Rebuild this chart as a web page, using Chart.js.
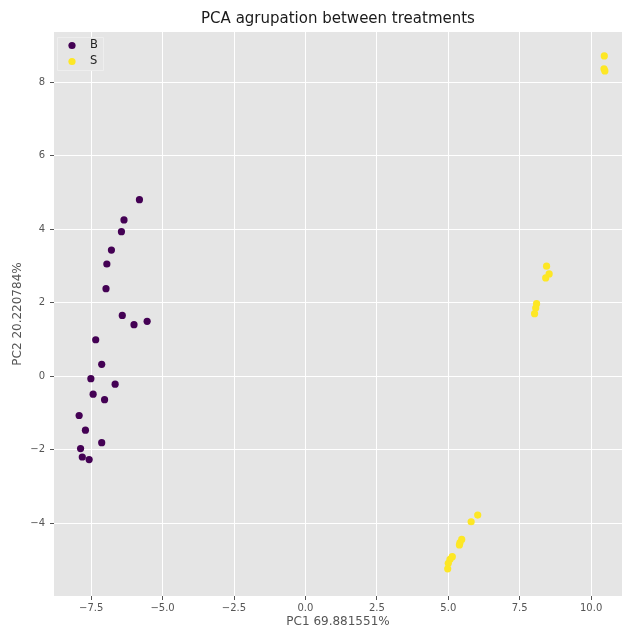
<!DOCTYPE html>
<html lang="en">
<head>
    <meta charset="UTF-8">
    <title>PCA agrupation between treatments</title>
    <script src="https://cdn.jsdelivr.net/npm/chart.js"></script>
    <style>
        body { margin: 0; background: #ffffff; }
        canvas { display: block; }
    </style>
</head>
<body>
    <canvas id="pcaChart" width="622" height="628"></canvas>

    <script>
        // PC scores for each treatment group
        const groupLabels = ['B', 'S'];
        const pc1B = [-5.81, -6.35, -6.44, -6.79, -6.95, -6.98, -6.41, -6.00, -5.54, -7.34, -7.13,
                      -7.51, -6.66, -7.43, -7.03, -7.92, -7.70, -7.13, -7.87, -7.81, -7.57];
        const pc2B = [4.80, 4.25, 3.93, 3.43, 3.05, 2.38, 1.65, 1.40, 1.49, 0.99, 0.32,
                      -0.07, -0.22, -0.49, -0.64, -1.07, -1.47, -1.81, -1.97, -2.20, -2.27];
        const pc1S = [6.03, 5.80, 5.47, 5.41, 5.39, 5.14, 5.06, 5.00, 4.98,
                      8.44, 8.53, 8.41, 8.09, 8.06, 8.02, 10.46, 10.45, 10.48];
        const pc2S = [-3.78, -3.96, -4.44, -4.53, -4.59, -4.91, -4.98, -5.09, -5.24,
                      2.99, 2.78, 2.67, 1.97, 1.85, 1.70, 8.71, 8.36, 8.30];

        const xTicks = [-7.5, -5.0, -2.5, 0.0, 2.5, 5.0, 7.5, 10.0];
        const yTicks = [-4, -2, 0, 2, 4, 6, 8];

        const colorB = '#440154';
        const colorS = '#fde725';
        const FONT = 'DejaVu Sans';

        function toPoints(xs, ys) {
            return xs.map((x, i) => ({ x: x, y: ys[i] }));
        }

        function minusSign(text) {
            return text.replace('-', '\u2212');
        }

        // grey panel behind the plot, title on top, legend in the upper left corner
        const ggplotDecor = {
            id: 'ggplotDecor',
            beforeDraw(chart) {
                const { ctx, chartArea: a } = chart;
                ctx.save();
                ctx.fillStyle = '#e5e5e5';
                ctx.fillRect(a.left, a.top, a.right - a.left, a.bottom - a.top);
                ctx.restore();
            },
            afterDraw(chart) {
                const { ctx, chartArea: a } = chart;
                ctx.save();
                ctx.fillStyle = '#1a1a1a';
                ctx.font = '15px "' + FONT + '"';
                ctx.textAlign = 'center';
                ctx.textBaseline = 'middle';
                ctx.fillText('PCA agrupation between treatments', (a.left + a.right) / 2, 19);

                // legend
                const bx = a.left + 3, by = a.top + 5;
                ctx.fillStyle = '#e5e5e5';
                ctx.strokeStyle = '#eeeeee';
                ctx.lineWidth = 1;
                ctx.beginPath();
                ctx.rect(bx + 0.5, by + 0.5, 46, 33);
                ctx.fill();
                ctx.stroke();
                chart.data.datasets.forEach((ds, i) => {
                    const cy = by + 8.5 + i * 16;
                    ctx.fillStyle = ds.backgroundColor;
                    ctx.beginPath();
                    ctx.arc(bx + 15, cy, 3.6, 0, Math.PI * 2);
                    ctx.fill();
                    ctx.fillStyle = '#222222';
                    ctx.font = '11.5px "' + FONT + '"';
                    ctx.textAlign = 'left';
                    ctx.fillText(ds.label, bx + 33, cy);
                });
                ctx.restore();
            }
        };

        const ctx = document.getElementById('pcaChart').getContext('2d');
        new Chart(ctx, {
            type: 'scatter',
            data: {
                datasets: [
                    {
                        label: groupLabels[0],
                        data: toPoints(pc1B, pc2B),
                        backgroundColor: colorB,
                        borderWidth: 0,
                        pointRadius: 3.6
                    },
                    {
                        label: groupLabels[1],
                        data: toPoints(pc1S, pc2S),
                        backgroundColor: colorS,
                        borderWidth: 0,
                        pointRadius: 3.6
                    }
                ]
            },
            options: {
                responsive: false,
                animation: false,
                devicePixelRatio: 1,
                layout: { autoPadding: false, padding: { top: 32, right: 0, left: 0, bottom: 0 } },
                plugins: {
                    legend: { display: false },
                    tooltip: { enabled: false }
                },
                scales: {
                    x: {
                        type: 'linear',
                        min: -8.8,
                        max: 11.08,
                        afterBuildTicks: scale => { scale.ticks = xTicks.map(v => ({ value: v })); },
                        afterFit: scale => {
                            scale.height = 32;
                            scale.paddingLeft = 0;
                            scale.paddingRight = 0;
                        },
                        border: { display: false },
                        grid: { color: '#ffffff', lineWidth: 1, tickColor: '#555555', tickLength: 4 },
                        ticks: {
                            color: '#555555',
                            padding: 2,
                            maxRotation: 0,
                            font: { family: FONT, size: 10 },
                            callback: v => minusSign(v.toFixed(1))
                        },
                        title: {
                            display: true,
                            text: 'PC1 69.881551%',
                            color: '#555555',
                            padding: { top: 0, bottom: 0 },
                            font: { family: FONT, size: 12, lineHeight: 1 }
                        }
                    },
                    y: {
                        type: 'linear',
                        min: -5.98,
                        max: 9.36,
                        afterBuildTicks: scale => { scale.ticks = yTicks.map(v => ({ value: v })); },
                        afterFit: scale => {
                            scale.width = 54;
                            scale.paddingTop = 0;
                            scale.paddingBottom = 0;
                        },
                        border: { display: false },
                        grid: { color: '#ffffff', lineWidth: 1, tickColor: '#555555', tickLength: 4 },
                        ticks: {
                            color: '#555555',
                            padding: 5,
                            font: { family: FONT, size: 10 },
                            callback: v => minusSign(String(v))
                        },
                        title: {
                            display: true,
                            text: 'PC2 20.220784%',
                            color: '#555555',
                            padding: { top: 12, bottom: 0 },
                            font: { family: FONT, size: 12, lineHeight: 1 }
                        }
                    }
                }
            },
            plugins: [ggplotDecor]
        });
    </script>
</body>
</html>
